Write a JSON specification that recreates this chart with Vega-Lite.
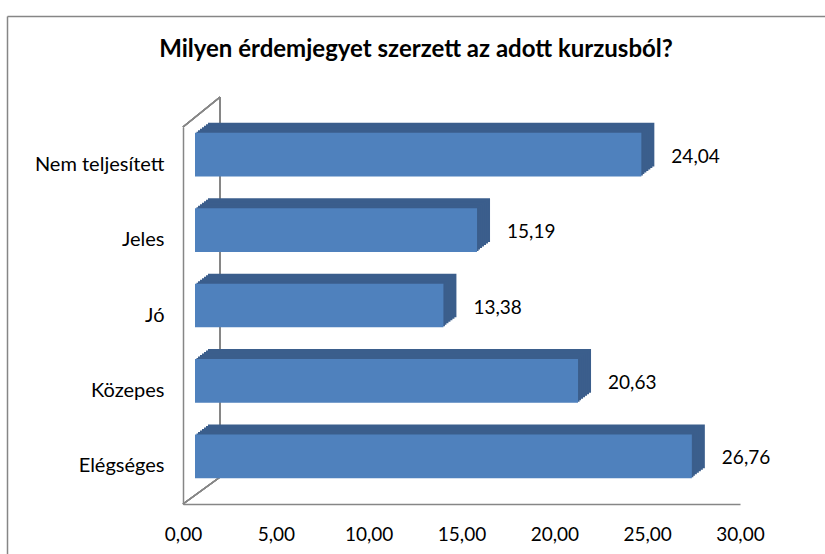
{
  "$schema": "https://vega.github.io/schema/vega-lite/v6.json",
  "width": 818,
  "height": 538,
  "autosize": {"type": "none"},
  "padding": {"left": 7, "top": 16, "right": 0, "bottom": 0},
  "background": "white",
  "title": {
    "text": "Milyen érdemjegyet szerzett az adott kurzusból?",
    "font": "Lato",
    "fontSize": 24,
    "fontWeight": "bold",
    "color": "#000000",
    "anchor": "middle",
    "frame": "group",
    "offset": 0,
    "baseline": "alphabetic",
    "dy": 65
  },
  "config": {
    "view": {"stroke": null},
    "font": "Lato",
    "locale": {"number": {"decimal": ",", "thousands": " ", "grouping": [3], "currency": ["", " Ft"]}}
  },
  "data": {
    "values": [
      {"grade": "Nem teljesített", "value": 24.04},
      {"grade": "Jeles", "value": 15.19},
      {"grade": "Jó", "value": 13.38},
      {"grade": "Közepes", "value": 20.63},
      {"grade": "Elégséges", "value": 26.76}
    ]
  },
  "layer": [
    {
      "encoding": {
        "y": {
          "field": "grade",
          "type": "nominal",
          "sort": ["Nem teljesített", "Jeles", "Jó", "Közepes", "Elégséges"],
          "scale": {
            "domain": ["Nem teljesített", "Jeles", "Jó", "Közepes", "Elégséges"],
            "range": [111, 488],
            "paddingInner": 0.42,
            "paddingOuter": 0.21
          },
          "axis": {
            "orient": "left",
            "title": null,
            "offset": -176,
            "domainColor": "#868686",
            "domainWidth": 1.5,
            "ticks": false,
            "labelFont": "Lato",
            "labelFontSize": 20,
            "labelColor": "#000000",
            "labelPadding": 19
          }
        },
        "x": {
          "field": "value",
          "type": "quantitative",
          "scale": {"domain": [0, 30], "range": [176, 733], "nice": false, "zero": true},
          "axis": {
            "orient": "bottom",
            "title": null,
            "offset": -50,
            "values": [0, 5, 10, 15, 20, 25, 30],
            "format": ".2f",
            "grid": false,
            "domainColor": "#868686",
            "domainWidth": 1.5,
            "ticks": false,
            "labelFlush": false,
            "labelOverlap": false,
            "labelFont": "Lato",
            "labelFontSize": 19,
            "labelColor": "#000000",
            "labelPadding": 21
          }
        }
      },
      "layer": [
        {
          "mark": {"type": "rule", "color": "#868686", "strokeWidth": 1.5, "yOffset": -67.7, "y2Offset": 10.7},
          "encoding": {
            "x": {"datum": 2, "type": "quantitative"},
            "y": {"datum": "Nem teljesített", "type": "nominal"},
            "y2": {"datum": "Elégséges"}
          }
        },
        {
          "mark": {"type": "rule", "color": "#868686", "strokeWidth": 1.5, "yOffset": -37.7, "y2Offset": -67.7},
          "encoding": {
            "x": {"datum": 0, "type": "quantitative"},
            "x2": {"datum": 2},
            "y": {"datum": "Nem teljesített", "type": "nominal"},
            "y2": {"datum": "Nem teljesített"}
          }
        },
        {
          "mark": {"type": "rule", "color": "#868686", "strokeWidth": 1.5, "yOffset": 37.7, "y2Offset": 10.7},
          "encoding": {
            "x": {"datum": 0, "type": "quantitative"},
            "x2": {"datum": 2},
            "y": {"datum": "Elégséges", "type": "nominal"},
            "y2": {"datum": "Elégséges"}
          }
        },
        {
          "mark": {"type": "bar", "color": "#3b5e8c", "xOffset": 25, "x2Offset": 25, "yOffset": -20, "y2Offset": -20},
          "encoding": {}
        },
        {
          "mark": {"type": "bar", "color": "#3b5e8c", "xOffset": 23, "x2Offset": 23, "yOffset": -18.5, "y2Offset": -18.5},
          "encoding": {}
        },
        {
          "mark": {"type": "bar", "color": "#3b5e8c", "xOffset": 21, "x2Offset": 21, "yOffset": -17, "y2Offset": -17},
          "encoding": {}
        },
        {
          "mark": {"type": "bar", "color": "#3b5e8c", "xOffset": 19, "x2Offset": 19, "yOffset": -15.5, "y2Offset": -15.5},
          "encoding": {}
        },
        {
          "mark": {"type": "bar", "color": "#3b5e8c", "xOffset": 17, "x2Offset": 17, "yOffset": -14, "y2Offset": -14},
          "encoding": {}
        },
        {
          "mark": {"type": "bar", "color": "#3b5e8c", "xOffset": 15, "x2Offset": 15, "yOffset": -12.5, "y2Offset": -12.5},
          "encoding": {}
        },
        {
          "mark": {"type": "bar", "color": "#3b5e8c", "xOffset": 13.5, "x2Offset": 13.5, "yOffset": -11, "y2Offset": -11},
          "encoding": {}
        },
        {
          "mark": {"type": "bar", "color": "#4f81bd", "xOffset": 12, "x2Offset": 12, "yOffset": -10, "y2Offset": -10},
          "encoding": {}
        },
        {
          "mark": {"type": "text", "align": "left", "baseline": "middle", "dx": 42, "dy": -8, "fontSize": 19, "font": "Lato", "color": "#000000"},
          "encoding": {
            "text": {"field": "value", "type": "quantitative", "format": ".2f"}
          }
        }
      ]
    },
    {
      "mark": {"type": "rule", "opacity": 0},
      "encoding": {
        "x": {
          "datum": 0,
          "type": "quantitative",
          "scale": {"domain": [0, 1], "range": [0, 818]},
          "axis": {"orient": "top", "title": null, "labels": false, "ticks": false, "grid": false, "domainColor": "#868686", "domainWidth": 1.5}
        },
        "y": {
          "datum": 0,
          "type": "quantitative",
          "scale": {"domain": [0, 1], "range": [0, 538]},
          "axis": {"orient": "left", "title": null, "labels": false, "ticks": false, "grid": false, "domainColor": "#868686", "domainWidth": 1.5}
        }
      }
    }
  ],
  "resolve": {"scale": {"x": "independent", "y": "independent"}, "axis": {"x": "independent", "y": "independent"}}
}
